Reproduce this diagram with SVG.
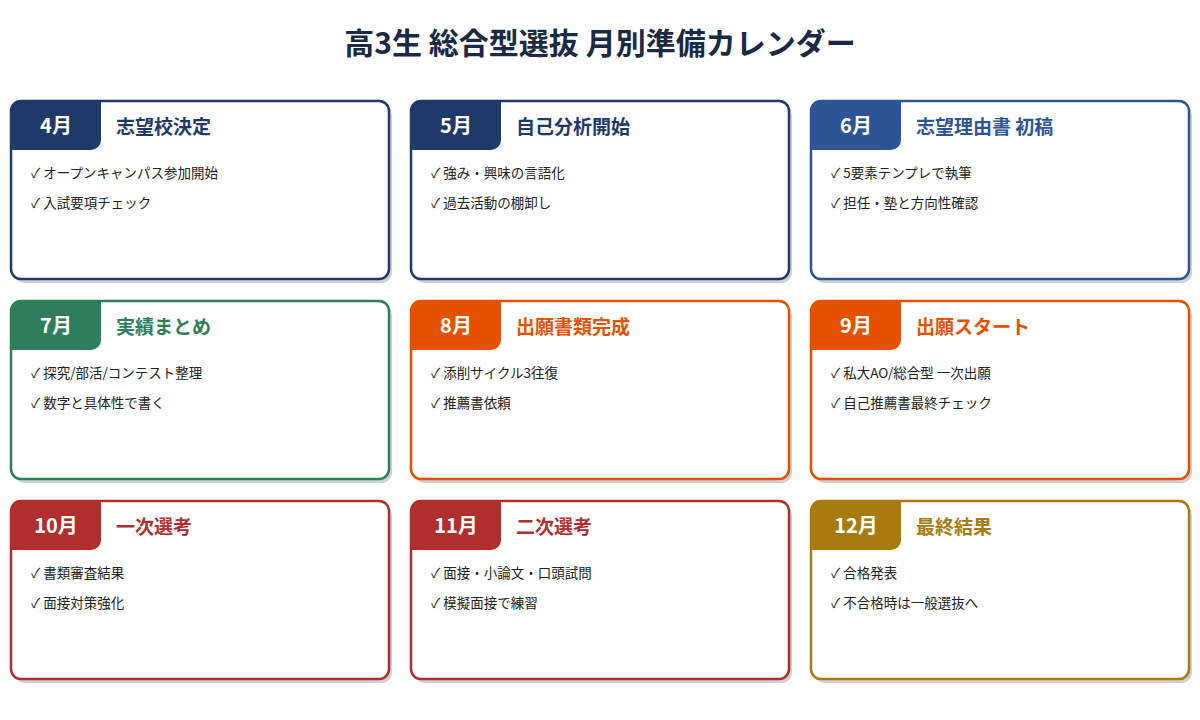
<svg xmlns="http://www.w3.org/2000/svg" width="1200" height="720" viewBox="0 0 1200 720">
<style>
text{font-family:"Noto Sans CJK JP","Noto Sans",sans-serif}
.title{font-size:30px;font-weight:700;fill:#1a2a44;text-anchor:middle}
.card{fill:#fff;stroke-width:2.5}
.sh{fill:#d0d0d0}
.m{font-size:20px;font-weight:700;fill:#fff;text-anchor:middle}
.h{font-size:19px;font-weight:700}
.i{font-size:13.5px;fill:#222}
</style>
<rect width="1200" height="720" fill="#fff"/>
<text class="title" x="600" y="54">高3生 総合型選抜 月別準備カレンダー</text>
<defs>
<path id="tab" d="M0 10 A10 10 0 0 1 10 0 H90 V39 A10 10 0 0 1 80 49 H0 Z"/>
</defs>
<g id="apr" transform="translate(11,101)">
<rect class="sh" x="3" y="4" width="378" height="178" rx="10"/>
<rect class="card" stroke="#1f3a68" width="378" height="178" rx="10"/>
<use href="#tab" fill="#1f3a68"/>
<text class="m" x="45" y="32">4月</text>
<text class="h" x="105" y="33" fill="#1f3a68">志望校決定</text>
<text class="i" x="20" y="77">✓ オープンキャンパス参加開始</text>
<text class="i" x="20" y="107">✓ 入試要項チェック</text>
</g>
<g id="may" transform="translate(411,101)">
<rect class="sh" x="3" y="4" width="378" height="178" rx="10"/>
<rect class="card" stroke="#1f3a68" width="378" height="178" rx="10"/>
<use href="#tab" fill="#1f3a68"/>
<text class="m" x="45" y="32">5月</text>
<text class="h" x="105" y="33" fill="#1f3a68">自己分析開始</text>
<text class="i" x="20" y="77">✓ 強み・興味の言語化</text>
<text class="i" x="20" y="107">✓ 過去活動の棚卸し</text>
</g>
<g id="jun" transform="translate(811,101)">
<rect class="sh" x="3" y="4" width="378" height="178" rx="10"/>
<rect class="card" stroke="#2d5596" width="378" height="178" rx="10"/>
<use href="#tab" fill="#2d5596"/>
<text class="m" x="45" y="32">6月</text>
<text class="h" x="105" y="33" fill="#2d5596">志望理由書 初稿</text>
<text class="i" x="20" y="77">✓ 5要素テンプレで執筆</text>
<text class="i" x="20" y="107">✓ 担任・塾と方向性確認</text>
</g>
<g id="jul" transform="translate(11,301)">
<rect class="sh" x="3" y="4" width="378" height="178" rx="10"/>
<rect class="card" stroke="#2e7d5b" width="378" height="178" rx="10"/>
<use href="#tab" fill="#2e7d5b"/>
<text class="m" x="45" y="32">7月</text>
<text class="h" x="105" y="33" fill="#2e7d5b">実績まとめ</text>
<text class="i" x="20" y="77">✓ 探究/部活/コンテスト整理</text>
<text class="i" x="20" y="107">✓ 数字と具体性で書く</text>
</g>
<g id="aug" transform="translate(411,301)">
<rect class="sh" x="3" y="4" width="378" height="178" rx="10"/>
<rect class="card" stroke="#e65100" width="378" height="178" rx="10"/>
<use href="#tab" fill="#e65100"/>
<text class="m" x="45" y="32">8月</text>
<text class="h" x="105" y="33" fill="#e65100">出願書類完成</text>
<text class="i" x="20" y="77">✓ 添削サイクル3往復</text>
<text class="i" x="20" y="107">✓ 推薦書依頼</text>
</g>
<g id="sep" transform="translate(811,301)">
<rect class="sh" x="3" y="4" width="378" height="178" rx="10"/>
<rect class="card" stroke="#e65100" width="378" height="178" rx="10"/>
<use href="#tab" fill="#e65100"/>
<text class="m" x="45" y="32">9月</text>
<text class="h" x="105" y="33" fill="#e65100">出願スタート</text>
<text class="i" x="20" y="77">✓ 私大AO/総合型 一次出願</text>
<text class="i" x="20" y="107">✓ 自己推薦書最終チェック</text>
</g>
<g id="oct" transform="translate(11,501)">
<rect class="sh" x="3" y="4" width="378" height="178" rx="10"/>
<rect class="card" stroke="#b02e2e" width="378" height="178" rx="10"/>
<use href="#tab" fill="#b02e2e"/>
<text class="m" x="45" y="32">10月</text>
<text class="h" x="105" y="33" fill="#b02e2e">一次選考</text>
<text class="i" x="20" y="77">✓ 書類審査結果</text>
<text class="i" x="20" y="107">✓ 面接対策強化</text>
</g>
<g id="nov" transform="translate(411,501)">
<rect class="sh" x="3" y="4" width="378" height="178" rx="10"/>
<rect class="card" stroke="#b02e2e" width="378" height="178" rx="10"/>
<use href="#tab" fill="#b02e2e"/>
<text class="m" x="45" y="32">11月</text>
<text class="h" x="105" y="33" fill="#b02e2e">二次選考</text>
<text class="i" x="20" y="77">✓ 面接・小論文・口頭試問</text>
<text class="i" x="20" y="107">✓ 模擬面接で練習</text>
</g>
<g id="dec" transform="translate(811,501)">
<rect class="sh" x="3" y="4" width="378" height="178" rx="10"/>
<rect class="card" stroke="#a87b10" width="378" height="178" rx="10"/>
<use href="#tab" fill="#a87b10"/>
<text class="m" x="45" y="32">12月</text>
<text class="h" x="105" y="33" fill="#a87b10">最終結果</text>
<text class="i" x="20" y="77">✓ 合格発表</text>
<text class="i" x="20" y="107">✓ 不合格時は一般選抜へ</text>
</g>
<g id="connectors"/>
</svg>
